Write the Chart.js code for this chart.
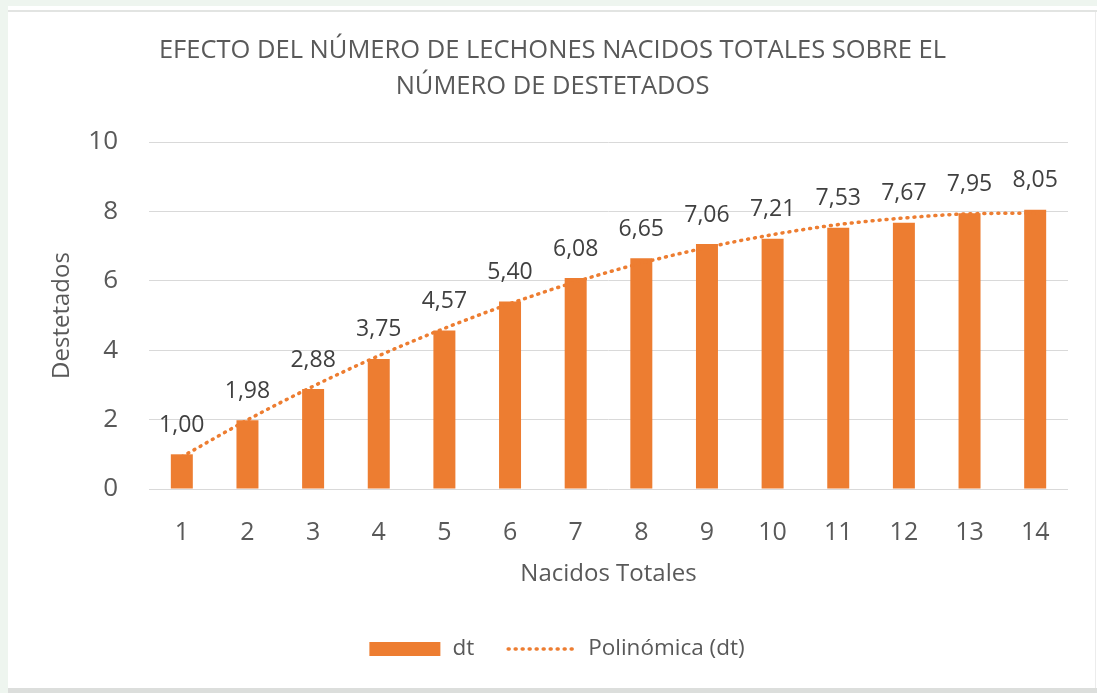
<!DOCTYPE html>
<html>
<head>
<meta charset="utf-8">
<script src="https://cdn.jsdelivr.net/npm/chart.js@4.4.1/dist/chart.umd.min.js"></script>
<style>
  html, body { margin: 0; padding: 0; width: 1097px; height: 693px; overflow: hidden; background: #eef5ef; }
  #card { position: absolute; left: 8px; top: 6px; width: 1089px; height: 687px; background: #ffffff; }
  #topline { position: absolute; left: 8px; top: 10px; width: 1089px; height: 2px; background: #e2e4e2; }
  #rightline { position: absolute; left: 1095px; top: 12px; width: 1px; height: 676px; background: #ececec; }
  #bottomband { position: absolute; left: 8px; top: 688px; width: 1089px; height: 5px; background: #dcdedc; }
  #wrap { position: absolute; left: 0; top: 0; width: 1097px; height: 693px; }
</style>
</head>
<body>
<div id="card"></div>
<div id="topline"></div>
<div id="rightline"></div>
<div id="bottomband"></div>
<div id="wrap"><canvas id="chart" width="1097" height="693"></canvas></div>
<script>
// ---- data ----
const categories = ['1', '2', '3', '4', '5', '6', '7', '8', '9', '10', '11', '12', '13', '14'];
const dtValues = [1.00, 1.98, 2.88, 3.75, 4.57, 5.40, 6.08, 6.65, 7.06, 7.21, 7.53, 7.67, 7.95, 8.05];
const trendValues = [0.93, 1.99, 2.96, 3.84, 4.63, 5.34, 5.97, 6.51, 6.96, 7.33, 7.62, 7.81, 7.93, 7.95];
const yTickValues = [0, 2, 4, 6, 8, 10];
const titleLines = ['EFECTO DEL NÚMERO DE LECHONES NACIDOS TOTALES SOBRE EL', 'NÚMERO DE DESTETADOS'];
const seriesNames = ['dt', 'Polinómica (dt)'];
const xAxisTitle = 'Nacidos Totales';
const yAxisTitle = 'Destetados';

const ORANGE = '#ED7D31';
const TEXT = '#595959';
const FONT = "'Open Sans', 'DejaVu Sans', sans-serif";

const valueLabels = {
  id: 'valueLabels',
  afterDatasetsDraw(chart) {
    const meta = chart.getDatasetMeta(0);
    const ctx = chart.ctx;
    ctx.save();
    ctx.font = '23px ' + FONT;
    ctx.fillStyle = '#404040';
    ctx.textAlign = 'center';
    ctx.textBaseline = 'middle';
    meta.data.forEach((el, i) => {
      const v = chart.data.datasets[0].data[i];
      ctx.fillText(v.toFixed(2).replace('.', ','), el.x, el.y - 29);
    });
    ctx.restore();
  }
};

const customLegend = {
  id: 'customLegend',
  afterDraw(chart) {
    const ctx = chart.ctx;
    ctx.save();
    ctx.font = '22.5px ' + FONT;
    const boxW = 71, boxH = 14, lineW = 68, gapText1 = 12, gapItem = 32, gapText2 = 14;
    const w1 = ctx.measureText(chart.data.datasets[0].label).width;
    const w2 = ctx.measureText(chart.data.datasets[1].label).width;
    const total = boxW + gapText1 + w1 + gapItem + lineW + gapText2 + w2;
    const cx = 557, cy = 649;
    let x = cx - total / 2;
    ctx.fillStyle = ORANGE;
    ctx.fillRect(x, cy - boxH / 2, boxW, boxH);
    x += boxW + gapText1;
    ctx.fillStyle = TEXT;
    ctx.textBaseline = 'middle';
    ctx.textAlign = 'left';
    ctx.fillText(chart.data.datasets[0].label, x, cy);
    x += w1 + gapItem;
    ctx.strokeStyle = ORANGE;
    ctx.lineWidth = 3.5;
    ctx.lineCap = 'round';
    ctx.setLineDash([1, 6]);
    ctx.beginPath();
    ctx.moveTo(x + 2, cy);
    ctx.lineTo(x + lineW, cy);
    ctx.stroke();
    ctx.setLineDash([]);
    x += lineW + gapText2;
    ctx.fillText(chart.data.datasets[1].label, x, cy);
    ctx.restore();
  }
};

new Chart(document.getElementById('chart'), {
  data: {
    labels: categories,
    datasets: [
      {
        type: 'bar',
        label: seriesNames[0],
        data: dtValues,
        backgroundColor: ORANGE,
        borderWidth: 0,
        categoryPercentage: 1.0,
        barPercentage: 0.335,
        order: 1
      },
      {
        type: 'line',
        label: seriesNames[1],
        data: trendValues,
        borderColor: ORANGE,
        borderWidth: 3.5,
        borderDash: [1, 6],
        borderCapStyle: 'round',
        pointRadius: 0,
        fill: false,
        cubicInterpolationMode: 'monotone',
        order: 0
      }
    ]
  },
  options: {
    responsive: false,
    animation: false,
    devicePixelRatio: 1,
    layout: { padding: { left: 37, right: 29, top: 0, bottom: 102 } },
    plugins: {
      legend: { display: false },
      tooltip: { enabled: false },
      title: {
        display: true,
        text: titleLines,
        color: TEXT,
        font: { family: FONT, size: 25.5, weight: 'normal', lineHeight: 36 / 25.5 },
        padding: { top: 33, bottom: 37 }
      }
    },
    scales: {
      x: {
        grid: { display: false },
        border: { display: false },
        ticks: { color: TEXT, font: { family: FONT, size: 25 }, padding: 21, maxRotation: 0 },
        title: { display: true, text: xAxisTitle, color: TEXT, font: { family: FONT, size: 24 }, padding: { top: 0, bottom: 2 } },
        afterFit(s) { s.height = 102; }
      },
      y: {
        min: 0,
        max: 10,
        grid: { color: '#d9d9d9', lineWidth: 1, drawTicks: false },
        border: { display: false },
        afterBuildTicks(s) { s.ticks = yTickValues.map(v => ({ value: v })); },
        ticks: { color: TEXT, font: { family: FONT, size: 26 }, padding: 31 },
        title: { display: true, text: yAxisTitle, color: TEXT, font: { family: FONT, size: 24 }, padding: { top: 11, bottom: 0 } },
        afterFit(s) { s.width = 112; }
      }
    }
  },
  plugins: [valueLabels, customLegend]
});
</script>
</body>
</html>
